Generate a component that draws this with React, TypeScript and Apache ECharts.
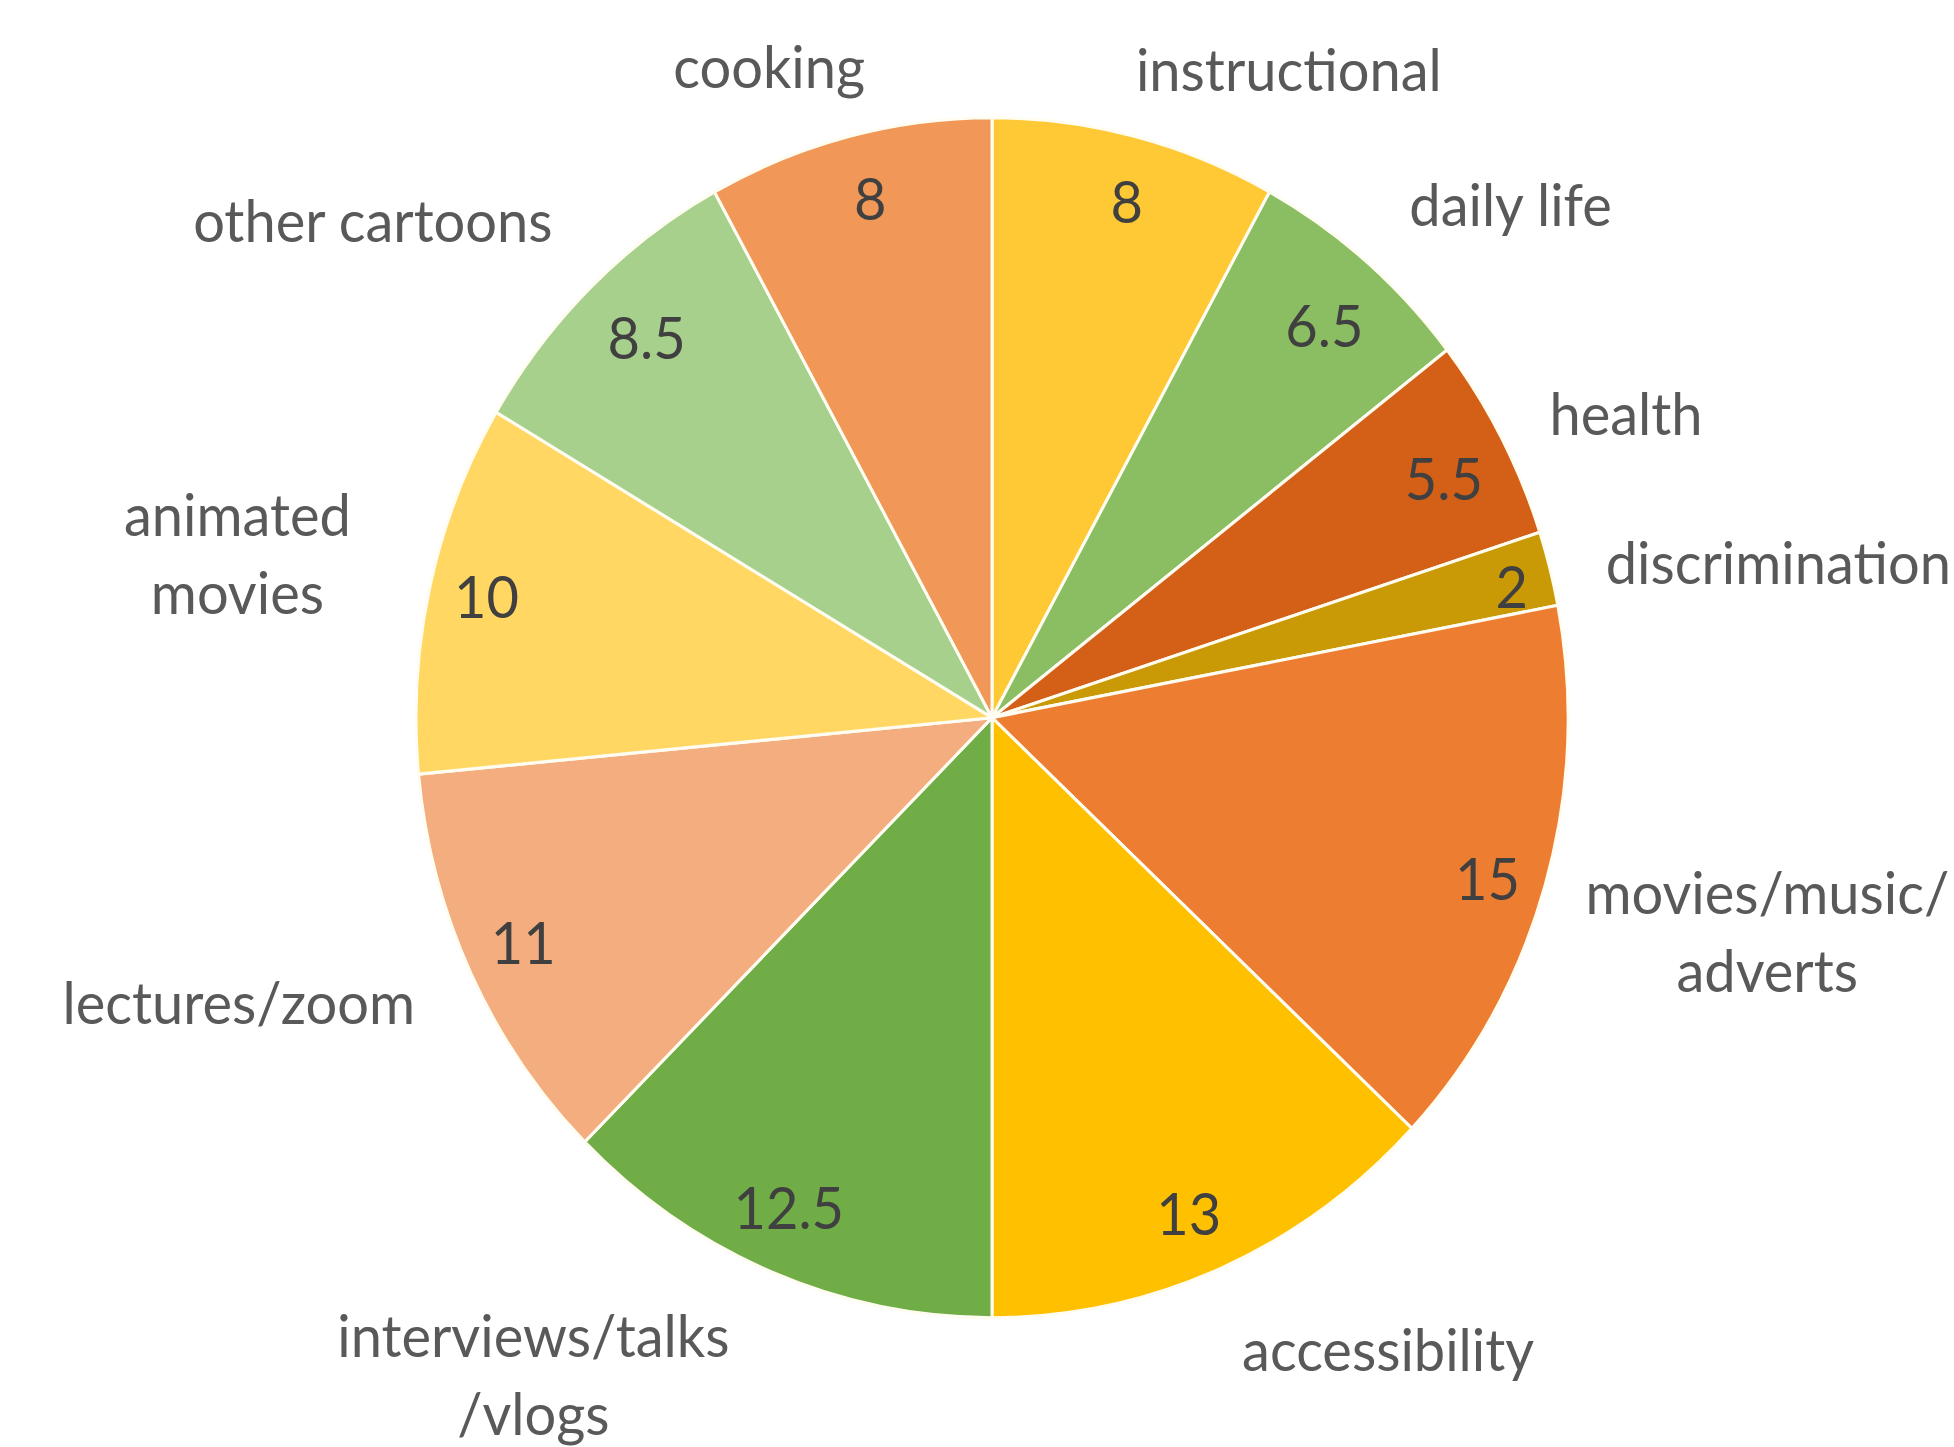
import React, { useEffect, useRef } from "react";
import * as echarts from "echarts";

// Slices, clockwise from 12 o'clock
const categories = [
  "instructional",
  "daily life",
  "health",
  "discrimination",
  "movies/music/\nadverts",
  "accessibility",
  "interviews/talks\n/vlogs",
  "lectures/zoom",
  "animated\nmovies",
  "other cartoons",
  "cooking",
];
const values = [8, 6.5, 5.5, 2, 15, 13, 12.5, 11, 10, 8.5, 8];
const colors = [
  "#FFC935",
  "#8BBE62",
  "#D46018",
  "#C99A06",
  "#ED7D31",
  "#FFC000",
  "#70AD47",
  "#F3AD7E",
  "#FFD762",
  "#A8D08D",
  "#F19858",
];
// fine shift of each category label from its ring position (px)
const nameShift: [number, number][] = [
  [117, 77],
  [49, 56],
  [-5, 45],
  [86, 30],
  [81, 3],
  [109, -58],
  [-182, -38],
  [-99, -35],
  [-49, -1],
  [-116, 41],
  [-43, 74],
];
// fine shift of each value label from its ring position (px)
const valueShift: [number, number][] = [
  [6, 5],
  [-4, 16],
  [-6, 12],
  [18, 2],
  [-2, 9],
  [-9, 0],
  [-5, -9],
  [0, -6],
  [0, -4],
  [15, 6],
  [7, 2],
];

const W = 1954;
const STRETCH = 600 / 576;
const H = Math.round(1447 / STRETCH);
const CX = 992;
const CY = 689;
const R = 576;
const FONT = "Lato, 'Open Sans', sans-serif";

export default function App() {
  const ref = useRef<HTMLDivElement>(null);
  useEffect(() => {
    if (!ref.current) return;
    const chart = echarts.init(ref.current, undefined, { renderer: "svg" });
    const data = categories.map((name, i) => ({ name, value: values[i] }));
    const clear = { color: "rgba(0,0,0,0)", borderWidth: 0 };
    chart.setOption({
      animation: false,
      backgroundColor: "#ffffff",
      series: [
        {
          type: "pie",
          center: [CX, CY],
          radius: [0, R],
          startAngle: 90,
          clockwise: true,
          silent: true,
          label: { show: false },
          labelLine: { show: false },
          itemStyle: { borderColor: "#fffdf2", borderWidth: 3 },
          data: data.map((d, i) => ({ ...d, itemStyle: { color: colors[i] } })),
        },
        {
          type: "pie",
          center: [CX, CY],
          radius: [454, R],
          startAngle: 90,
          silent: true,
          avoidLabelOverlap: false,
          itemStyle: clear,
          label: {
            show: true,
            position: "inside",
            formatter: "{c}",
            color: "#404040",
            fontFamily: FONT,
            fontSize: 56,
          },
          labelLine: { show: false },
          labelLayout: (p: any) => ({
            dx: valueShift[p.dataIndex][0],
            dy: valueShift[p.dataIndex][1],
          }),
          data,
        },
        {
          type: "pie",
          center: [CX, CY],
          radius: [R, 864],
          startAngle: 90,
          silent: true,
          avoidLabelOverlap: false,
          itemStyle: clear,
          label: {
            show: true,
            position: "inside",
            formatter: "{b}",
            color: "#595959",
            fontFamily: FONT,
            fontSize: 56,
            lineHeight: 75,
          },
          labelLine: { show: false },
          labelLayout: (p: any) => ({
            dx: nameShift[p.dataIndex][0],
            dy: nameShift[p.dataIndex][1],
          }),
          data,
        },
      ],
    });
    return () => chart.dispose();
  }, []);
  return (
    <div
      ref={ref}
      style={{
        position: "absolute",
        left: 0,
        top: 0,
        width: W,
        height: H,
        transform: `scaleY(${STRETCH})`,
        transformOrigin: "0 0",
      }}
    />
  );
}
